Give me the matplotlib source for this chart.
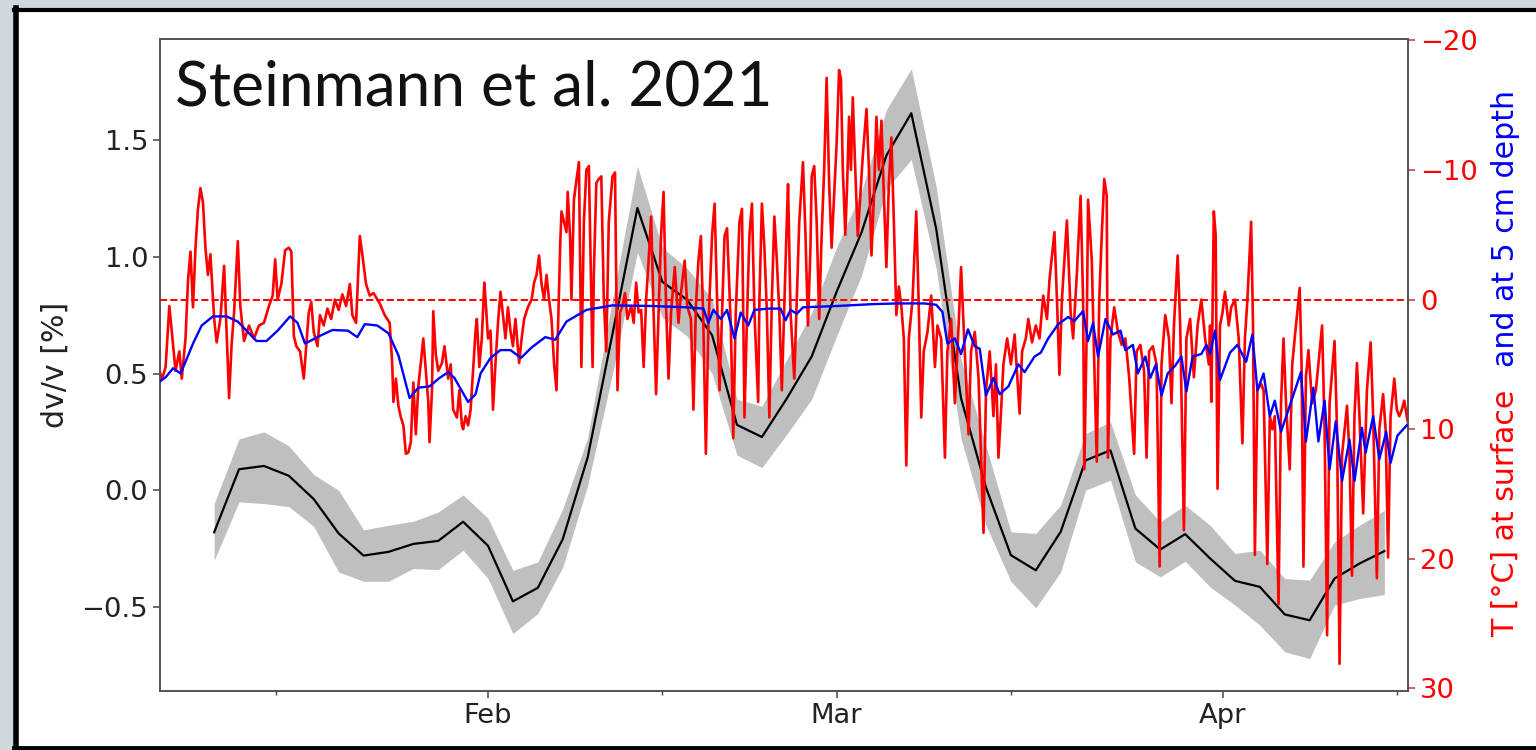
import matplotlib
matplotlib.use("Agg")
import matplotlib.pyplot as plt
import matplotlib.dates as mdates
from matplotlib.patches import Rectangle
from matplotlib.lines import Line2D
import datetime as dt

YEAR = 2019

# ---------------- data ----------------
# dv/v every two days (day of year), mean and uncertainty band
dv_day = [10, 12, 14, 16, 18, 20, 22, 24, 26, 28, 30, 32, 34, 36, 38, 40,
          42, 44, 46, 48, 50, 52, 54, 56, 58, 60, 62, 64, 66, 68, 70, 72,
          74, 76, 78, 80, 82, 84, 86, 88, 90, 92, 94, 96, 98, 100, 102, 104]
dv_mean = [-0.18, 0.09, 0.104, 0.062, -0.038, -0.185, -0.28, -0.264, -0.23, -0.217, -0.135, -0.238,
           -0.476, -0.418, -0.21, 0.14, 0.67, 1.209, 0.893, 0.815, 0.664, 0.28, 0.228, 0.393,
           0.573, 0.85, 1.104, 1.434, 1.615, 1.12, 0.393, 0.012, -0.278, -0.343, -0.178, 0.128,
           0.171, -0.164, -0.254, -0.188, -0.292, -0.388, -0.414, -0.532, -0.557, -0.378, -0.314, -0.261]
dv_low = [-0.30, -0.05, -0.057, -0.07, -0.155, -0.35, -0.39, -0.39, -0.335, -0.34, -0.257, -0.378,
          -0.614, -0.528, -0.33, 0.02, 0.50, 1.019, 0.74, 0.66, 0.50, 0.15, 0.097, 0.24,
          0.39, 0.66, 0.92, 1.29, 1.417, 0.95, 0.22, -0.15, -0.39, -0.504, -0.35, 0.0,
          0.043, -0.307, -0.371, -0.304, -0.414, -0.492, -0.578, -0.692, -0.721, -0.492, -0.464, -0.447]
dv_high = [-0.057, 0.22, 0.25, 0.19, 0.067, 0.0, -0.17, -0.15, -0.133, -0.093, -0.02, -0.12,
           -0.343, -0.307, -0.08, 0.224, 0.82, 1.388, 1.04, 0.95, 0.82, 0.39, 0.36, 0.56,
           0.76, 1.04, 1.28, 1.63, 1.806, 1.30, 0.56, 0.19, -0.178, -0.185, -0.064, 0.243,
           0.293, -0.02, -0.135, -0.064, -0.15, -0.271, -0.257, -0.378, -0.385, -0.221, -0.15, -0.086]

# surface temperature (day of year, degC)
surface_T = [
    (5.5, 5.0), (5.8, 6.2), (6.1, 5.2), (6.4, 0.5), (6.6, 2.5), (6.9, 5.5), (7.2, 4.0), (7.4, 6.1),
    (7.7, 3.0), (7.9, -1.5), (8.1, -3.7), (8.3, 0.6), (8.5, -4.0), (8.7, -7.0), (8.9, -8.6), (9.1, -7.5),
    (9.3, -4.0), (9.5, -1.9), (9.7, -3.5), (10.0, 1.5), (10.2, 3.3), (10.5, 1.5), (10.8, -2.6), (11.0, 2.5),
    (11.2, 7.6), (11.4, 3.5), (11.6, 1.0), (11.9, -4.5), (12.1, 0.5), (12.4, 3.2), (12.8, 2.0), (13.2, 3.0),
    (13.6, 2.0), (14.0, 1.8), (14.4, 0.5), (14.7, -0.3), (14.9, -3.1), (15.1, 0.0), (15.4, -1.2), (15.7, -3.8),
    (16.0, -4.0), (16.2, -3.7), (16.4, 2.8), (16.6, 3.6), (16.9, 4.0), (17.2, 6.1), (17.4, 3.5), (17.6, 1.0),
    (17.8, 0.2), (18.0, 2.5), (18.3, 3.6), (18.5, 1.2), (18.8, 2.0), (19.1, 0.7), (19.4, 1.5), (19.7, 0.0),
    (20.0, 0.8), (20.3, -0.4), (20.6, 0.5), (20.9, -1.2), (21.1, 1.2), (21.4, 1.8), (21.7, -4.9), (21.9, -3.5),
    (22.2, -1.2), (22.5, -0.3), (22.8, -0.5), (23.3, 0.3), (23.7, 1.2), (24.1, 1.8), (24.3, 4.9), (24.4, 7.9),
    (24.6, 6.1), (24.8, 8.2), (25.0, 9.1), (25.2, 9.7), (25.4, 11.9), (25.6, 11.8), (25.8, 11.0), (26.0, 6.4),
    (26.2, 10.4), (26.4, 6.7), (26.6, 4.9), (26.8, 3.0), (27.0, 5.5), (27.2, 7.9), (27.3, 11.0), (27.5, 7.0),
    (27.6, 0.9), (27.8, 4.2), (28.0, 5.5), (28.3, 4.9), (28.5, 3.6), (28.8, 6.1), (29.0, 5.0), (29.2, 8.5),
    (29.5, 9.1), (29.7, 7.0), (29.9, 9.7), (30.0, 10.0), (30.2, 9.0), (30.4, 9.7), (30.6, 8.5), (30.8, 5.5),
    (31.0, 2.4), (31.1, 1.5), (31.3, 5.2), (31.5, 3.0), (31.7, -1.3), (31.8, 0.0), (32.0, 3.0), (32.2, 2.4),
    (32.4, 8.5), (32.6, 4.9), (32.8, 1.8), (33.0, -0.6), (33.2, 1.2), (33.4, 3.0), (33.6, 0.6), (33.8, 2.4),
    (34.0, 3.6), (34.2, 1.5), (34.5, 4.9), (34.7, 3.0), (34.9, 1.5), (35.2, 0.6), (35.5, 0.0), (35.7, -1.3),
    (35.9, -1.9), (36.1, -3.4), (36.3, -1.2), (36.5, 0.0), (36.7, -1.9), (36.9, 0.0), (37.1, 1.5), (37.3, 4.9),
    (37.5, 7.0), (37.6, 3.0), (37.8, -4.3), (37.9, -6.8), (38.1, -6.0), (38.3, -5.2), (38.4, -8.3), (38.6, -4.6),
    (38.7, 0.0), (38.9, -7.7), (39.1, -9.2), (39.3, -10.6), (39.5, 5.2), (39.7, -6.0), (39.9, -10.0), (40.1, -10.3),
    (40.4, 5.2), (40.5, -2.0), (40.7, -9.0), (40.9, -9.3), (41.1, -9.5), (41.3, 0.0), (41.5, 4.0), (41.7, -6.0),
    (42.0, -9.5), (42.2, -9.8), (42.4, 7.0), (42.6, 1.0), (42.8, 0.5), (43.0, -0.5), (43.2, 1.5), (43.5, 0.5),
    (43.7, 1.8), (43.9, -1.3), (44.1, 1.0), (44.3, 0.8), (44.5, 5.2), (44.7, 0.0), (44.9, -3.0), (45.1, -6.4),
    (45.3, 1.0), (45.5, 7.3), (45.7, 1.0), (45.9, -5.0), (46.1, -8.3), (46.3, 0.5), (46.5, 6.1), (46.7, 1.0),
    (47.0, -2.5), (47.3, 1.8), (47.5, -0.5), (47.8, -3.0), (48.0, 0.5), (48.3, 1.5), (48.5, 8.5), (48.7, 0.5),
    (48.9, -3.0), (49.1, -4.9), (49.3, 2.0), (49.5, 11.9), (49.7, 2.0), (50.0, -5.0), (50.2, -7.4), (50.4, 0.0),
    (50.6, 7.0), (50.8, 1.0), (51.0, -4.9), (51.2, -5.5), (51.5, 2.0), (51.7, 10.7), (51.9, 1.0), (52.2, -6.0),
    (52.4, -7.0), (52.6, 9.1), (52.8, 1.5), (53.0, -5.0), (53.2, -7.4), (53.4, 1.0), (53.7, 7.9), (53.8, 0.0),
    (54.0, -7.4), (54.2, -4.0), (54.4, 1.0), (54.6, 9.1), (54.8, 0.0), (55.0, -6.4), (55.2, -3.0), (55.4, 1.0),
    (55.6, 7.0), (55.8, 0.5), (56.0, -6.0), (56.1, -8.9), (56.3, 1.0), (56.6, 6.1), (56.8, 0.0), (57.0, -6.0),
    (57.3, -10.6), (57.5, -5.0), (57.7, 2.0), (57.9, -4.0), (58.0, -9.5), (58.2, -10.3), (58.4, -6.0), (58.6, 1.5),
    (58.8, -5.0), (59.0, -10.0), (59.2, -17.1), (59.4, -9.0), (59.6, -4.0), (59.8, -8.0), (60.0, -12.0), (60.2, -17.7),
    (60.35, -17.0), (60.5, -10.0), (60.7, -5.0), (60.85, -9.0), (61.0, -14.1), (61.15, -10.0), (61.3, -15.6), (61.5, -10.0),
    (61.7, -4.9), (61.9, -8.0), (62.1, -11.0), (62.4, -14.7), (62.6, -10.0), (62.8, -3.4), (63.0, -8.0), (63.2, -14.1),
    (63.4, -10.0), (63.6, -13.8), (63.8, -8.0), (64.0, -2.5), (64.2, -9.0), (64.4, -12.5), (64.6, -6.0), (64.8, 1.2),
    (65.0, -1.0), (65.2, 0.5), (65.4, 3.0), (65.6, 12.8), (65.8, 3.0), (66.1, 0.0), (66.4, -6.8), (66.6, 0.5),
    (66.8, 9.1), (67.0, 4.0), (67.3, 2.5), (67.6, -0.3), (67.9, 5.2), (68.1, 2.0), (68.4, 3.0), (68.7, 12.2),
    (68.9, 4.0), (69.2, 1.5), (69.5, 8.0), (69.8, 2.0), (70.0, -2.5), (70.2, 2.0), (70.6, 10.4), (70.8, 4.0),
    (71.1, 2.5), (71.4, 6.0), (71.8, 18.0), (72.0, 7.0), (72.3, 4.0), (72.6, 9.0), (72.8, 5.0), (73.0, 12.2),
    (73.2, 8.8), (73.4, 5.0), (73.7, 3.0), (74.0, 5.0), (74.3, 2.7), (74.7, 8.8), (74.9, 4.0), (75.2, 3.0),
    (75.4, 1.5), (75.7, 3.3), (76.0, 2.0), (76.3, 3.0), (76.6, -0.3), (76.9, 1.5), (77.1, -1.5), (77.5, -5.2),
    (77.7, 0.0), (77.9, 5.8), (78.1, 0.0), (78.5, -6.1), (78.8, 1.0), (79.0, 3.0), (79.3, -2.0), (79.6, -8.0),
    (79.8, 0.0), (79.9, 13.1), (80.1, 2.0), (80.2, -7.7), (80.5, -3.0), (80.7, 5.0), (80.9, 12.5), (81.1, 0.0),
    (81.3, -5.0), (81.5, -9.3), (81.7, -8.0), (81.8, 12.2), (82.0, 3.0), (82.3, 0.6), (82.6, 2.5), (82.9, 3.5),
    (83.2, 3.0), (83.5, 6.0), (83.9, 11.9), (84.1, 4.0), (84.4, 3.5), (84.7, 5.5), (84.9, 12.2), (85.1, 4.0),
    (85.4, 3.6), (85.7, 5.0), (85.95, 20.6), (86.1, 5.0), (86.4, 1.2), (86.7, 3.0), (86.9, 8.0), (87.1, 2.0),
    (87.4, -3.4), (87.6, 2.0), (87.9, 17.8), (88.1, 3.0), (88.4, 1.5), (88.7, 6.0), (89.0, 2.0), (89.3, 0.0),
    (89.6, 3.0), (89.9, 5.0), (90.0, 2.0), (90.1, 7.9), (90.2, 1.0), (90.3, -6.8), (90.45, -5.0), (90.6, 14.6),
    (90.8, 2.0), (91.0, 1.0), (91.2, -0.6), (91.5, 2.0), (91.7, 0.6), (92.0, 0.0), (92.3, 3.0), (92.6, 11.1),
    (92.8, 3.0), (93.0, 0.0), (93.3, -6.0), (93.45, 2.0), (93.6, 19.7), (93.8, 7.0), (94.1, 6.5), (94.3, 7.0),
    (94.6, 20.4), (94.8, 9.0), (95.0, 10.0), (95.2, 9.0), (95.5, 23.5), (95.7, 8.0), (95.9, 3.0), (96.1, 8.0),
    (96.4, 13.1), (96.6, 5.0), (96.9, 2.0), (97.2, -0.9), (97.35, 5.0), (97.5, 20.6), (97.7, 6.0), (97.9, 3.9),
    (98.2, 8.0), (98.5, 7.0), (98.7, 5.0), (99.0, 2.0), (99.2, 10.0), (99.4, 25.9), (99.6, 8.0), (100.0, 3.2),
    (100.2, 10.0), (100.4, 28.1), (100.6, 12.0), (101.0, 8.2), (101.2, 12.0), (101.4, 21.3), (101.6, 9.0), (101.8, 4.9),
    (102.0, 9.0), (102.3, 16.5), (102.6, 7.0), (102.9, 3.3), (103.1, 9.0), (103.4, 21.5), (103.6, 10.0), (103.9, 7.3),
    (104.1, 10.0), (104.3, 19.9), (104.5, 9.0), (104.8, 6.1), (105.0, 8.5), (105.2, 9.0), (105.4, 8.5), (105.6, 7.8),
    (105.8, 9.0), (105.9, 9.5),
]

# temperature at 5 cm depth (day of year, degC)
depth_T = [
    (5.5, 6.4), (6.1, 6.0), (6.7, 5.3), (7.3, 5.7), (7.7, 4.8), (8.3, 3.4), (9.0, 2.0), (9.9, 1.3),
    (11.0, 1.3), (11.9, 1.7), (12.6, 2.4), (13.4, 3.2), (14.2, 3.2), (15.1, 2.4), (16.1, 1.3), (16.7, 1.8),
    (17.3, 3.4), (18.5, 2.8), (19.5, 2.35), (20.75, 2.4), (21.5, 2.9), (22.1, 1.9), (23.1, 2.0), (24.0, 2.6),
    (24.8, 4.3), (25.7, 7.6), (26.4, 6.8), (27.3, 6.7), (28.1, 6.05), (28.8, 5.6), (29.3, 6.05), (30.4, 7.9),
    (31.0, 7.3), (31.4, 5.7), (32.2, 4.5), (33.0, 3.9), (33.8, 3.9), (34.65, 4.5), (35.5, 3.7), (36.6, 2.9),
    (37.4, 3.1), (38.3, 1.7), (39.9, 0.8), (42.0, 0.45), (45.2, 0.5), (48.0, 0.6), (49.3, 0.7), (49.7, 1.8),
    (50.1, 0.8), (50.7, 1.5), (51.2, 0.8), (51.8, 3.0), (52.3, 1.0), (52.9, 2.0), (53.4, 0.8), (54.5, 0.7),
    (55.5, 0.7), (55.9, 1.6), (56.3, 0.8), (56.8, 1.1), (57.3, 0.6), (60.0, 0.5), (63.0, 0.35), (65.0, 0.3),
    (67.0, 0.3), (68.0, 0.4), (68.5, 0.95), (68.9, 3.4), (69.5, 3.0), (70.0, 4.2), (70.55, 2.3), (71.1, 3.6),
    (71.5, 3.8), (72.0, 7.4), (72.6, 6.05), (73.1, 7.3), (73.8, 6.7), (74.6, 5.0), (75.1, 5.6), (75.9, 4.4),
    (76.4, 4.1), (77.0, 3.0), (77.8, 1.9), (78.6, 1.35), (79.1, 1.65), (79.8, 0.9), (80.2, 3.2), (80.6, 1.8),
    (81.0, 4.4), (81.6, 1.5), (82.2, 2.7), (82.8, 2.4), (83.2, 3.9), (83.8, 3.5), (84.2, 5.7), (84.8, 4.4),
    (85.2, 6.05), (85.65, 5.0), (86.1, 7.4), (86.6, 5.7), (87.2, 5.1), (87.7, 4.4), (88.1, 7.1), (88.6, 4.4),
    (89.3, 4.2), (89.7, 3.5), (90.0, 4.2), (90.4, 2.4), (90.8, 6.2), (91.6, 4.1), (92.2, 3.5), (92.9, 4.8),
    (93.4, 2.7), (93.8, 7.0), (94.3, 5.7), (94.8, 9.0), (95.2, 7.8), (95.7, 10.2), (96.4, 8.2), (97.3, 5.6),
    (97.7, 10.95), (98.3, 6.8), (98.7, 10.95), (99.2, 7.8), (99.6, 13.1), (100.1, 9.4), (100.6, 14.0), (101.2, 10.8),
    (101.6, 14.0), (102.2, 9.9), (102.5, 11.8), (103.1, 9.0), (103.6, 12.3), (104.15, 10.2), (104.5, 12.6), (105.05, 10.5),
    (105.8, 9.7),
]

x_limits_day = (5.65, 105.9)
title_text = "Steinmann et al. 2021"


def to_dates(days):
    base = dt.datetime(YEAR, 1, 1)
    return [base + dt.timedelta(days=float(d) - 1.0) for d in days]


W, H = 1536, 750
fig = plt.figure(figsize=(W / 100, H / 100), dpi=100)

# slide background + frame
fig.patches.append(Rectangle((0, 0), 1, 1, transform=fig.transFigure,
                             facecolor="#cdd9dc", edgecolor="none", zorder=-20))
fig.patches.append(Rectangle((16 / W, 2 / H), 1 - 16 / W, 1 - 12 / H, transform=fig.transFigure,
                             facecolor="white", edgecolor="none", zorder=-19))
for xs, ys, lw in [((14 / W, 1), (1 - 10 / H, 1 - 10 / H), 3.0),
                   ((16 / W, 16 / W), (0, 1 - 8 / H), 4.0),
                   ((14 / W, 1), (2 / H, 2 / H), 3.5)]:
    fig.lines.append(Line2D(xs, ys, transform=fig.transFigure, color="black", lw=lw, zorder=-5))

ax = fig.add_axes([160 / W, 59 / H, 1248 / W, 652 / H])
ax.set_facecolor("none")
ax2 = ax.twinx()

d_dates = to_dates(dv_day)
ax.fill_between(d_dates, dv_low, dv_high, color="#bfbfbf", lw=0, zorder=1)
ax.plot(d_dates, dv_mean, color="black", lw=1.6, zorder=2)

s_days, s_vals = zip(*surface_T)
b_days, b_vals = zip(*depth_T)
ax2.plot(to_dates(s_days), s_vals, color="red", lw=1.9, zorder=2)
ax2.axhline(0, color="red", ls="--", lw=1.4, zorder=1)
ax2.plot(to_dates(b_days), b_vals, color="blue", lw=1.7, zorder=3)

x0, x1 = to_dates(x_limits_day)
ax.set_xlim(x0, x1)
ax.set_ylim(-0.86, 1.933)
ax2.set_ylim(30.2, -20.1)

ax.set_yticks([-0.5, 0.0, 0.5, 1.0, 1.5])
ax.set_yticklabels(["\u22120.5", "0.0", "0.5", "1.0", "1.5"])
ax2.set_yticks([-20, -10, 0, 10, 20, 30])
ax2.set_yticklabels(["\u221220", "\u221210", "0", "10", "20", "30"])

ax.xaxis.set_major_locator(mdates.MonthLocator(bymonth=[2, 3, 4]))
ax.xaxis.set_major_formatter(mdates.DateFormatter("%b"))
ax.xaxis.set_minor_locator(mdates.DayLocator(bymonthday=15))

fs = 19.7
lab_fs = 21.6
ax.tick_params(axis="both", which="major", labelsize=fs, length=5, width=1.1, color="#444444",
               labelcolor="#222222")
ax.tick_params(axis="x", which="minor", length=3, width=1.0, color="#444444")
ax2.tick_params(axis="y", which="major", labelsize=fs, length=5, width=1.1, color="#cc3333",
                labelcolor="red")

for a in (ax, ax2):
    for sp in a.spines.values():
        sp.set_color("#555555")
        sp.set_linewidth(1.3)

fig.text(55 / W, 1 - 365 / H, "dv/v [%]", rotation=90, fontsize=lab_fs, color="#222222",
         ha="center", va="center")
fig.text(1505 / W, 1 - 637 / H, "T [\u00b0C] at surface", rotation=90, fontsize=lab_fs, color="red",
         ha="center", va="bottom")
fig.text(1505 / W, 1 - 90 / H, "and at 5 cm depth", rotation=90, fontsize=lab_fs, color="blue",
         ha="center", va="top")

fig.text(175 / W, 1 - 105 / H, title_text, fontsize=44.8, family=["Lato", "DejaVu Sans"],
         color="#111111", ha="left", va="baseline", zorder=10)

fig.savefig("out.png", dpi=100)
